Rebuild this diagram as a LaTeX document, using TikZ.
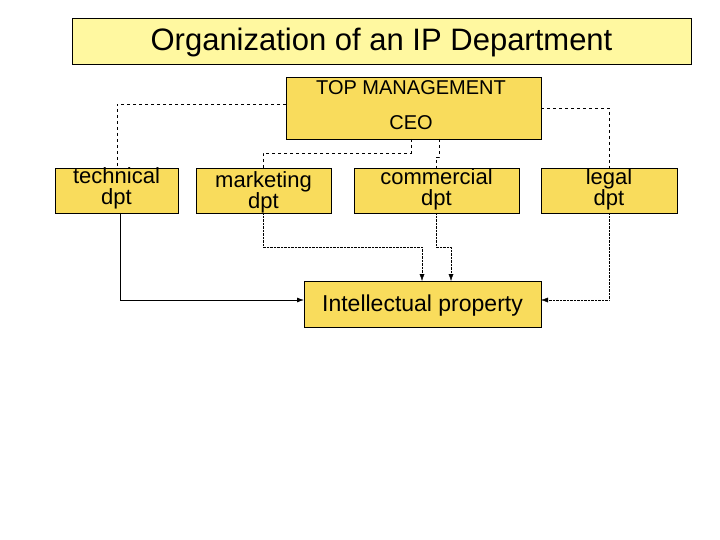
\documentclass[tikz,border=0pt]{standalone}
\usepackage{fontspec}
\setmainfont{Liberation Sans}
\usetikzlibrary{arrows.meta}
\begin{document}
\begin{tikzpicture}[x=1pt,y=-1pt,
  box/.style={draw,fill=boxy,inner sep=0pt},
  lbl/.style={font=\fontsize{22}{21}\selectfont,align=center},
  dsh/.style={draw,dashed,thin},
  dot/.style={draw,densely dotted,thin},
  arr/.style={-{Latex[length=7pt,width=5pt]}}]
\definecolor{boxy}{HTML}{F9DC5C}
\definecolor{titley}{HTML}{FFF8A0}
\useasboundingbox (0,0) rectangle (720,540);
\fill[white] (0,0) rectangle (720,540);
\draw[fill=titley] (72,18) rectangle (691,64);
\node (title) at (381.5,42) {\fontsize{31}{34}\selectfont Organization of an IP Department};
\draw[box] (286,77) rectangle (541,139);
\node[lbl,font=\fontsize{20}{20}\selectfont] (top) at (411,88) {TOP MANAGEMENT};
\node[lbl,font=\fontsize{20}{20}\selectfont] (ceo) at (411,123) {CEO};
\draw[box] (55,168) rectangle (178,213);
\node[lbl] (tech) at (116.5,188) {technical\\dpt};
\draw[box] (196,168) rectangle (331,213);
\node[lbl] (mkt) at (263.5,192) {marketing\\dpt};
\draw[box] (354,168) rectangle (519,213);
\node[lbl] (com) at (436.5,189) {commercial\\dpt};
\draw[box] (541,168) rectangle (677,213);
\node[lbl] (leg) at (609,189) {legal\\dpt};
\draw[box] (304,281) rectangle (541,327);
\node[lbl,font=\fontsize{23}{23}\selectfont] (ip) at (422.5,306) {Intellectual property};
\coordinate (tl) at (286,104); \coordinate (tr) at (541,108);
\draw[dsh] (tl) -| (117,168);
\draw[dsh] (tr) -| (609,168);
\draw[dsh] (411,139) -- (411,153) -| (263,168);
\draw[dsh] (439,139) -- (439,157) -- (436,157) -- (436,168);
\draw[thick,arr] (120,213) -- (120,300) -- (304,300);
\draw[dot,arr] (263,213) -- (263,247) -| (422,281);
\draw[dot,arr] (436,213) -- (436,247) -| (451,281);
\draw[dot,arr] (609,213) -- (609,300) -- (541,300);
\end{tikzpicture}
\end{document}
